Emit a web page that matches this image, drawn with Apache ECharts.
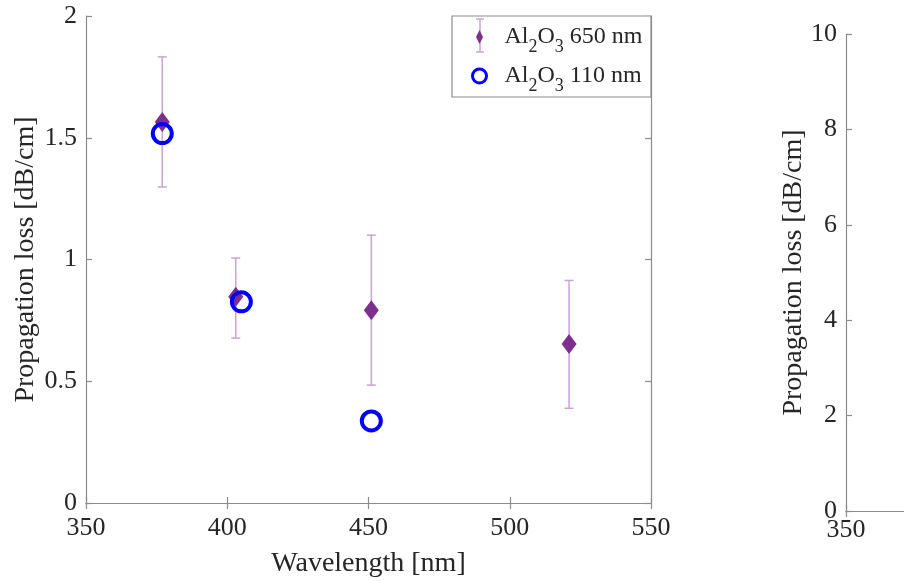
<!DOCTYPE html>
<html>
<head>
<meta charset="utf-8">
<script src="https://cdn.jsdelivr.net/npm/echarts@6/dist/echarts.min.js"></script>
<style>
  html, body { margin: 0; padding: 0; background: #fff; }
  #chart { width: 904px; height: 581px; }
</style>
</head>
<body>
<div id="chart"></div>
<script>
// Axis ticks
const xTicks = [350, 400, 450, 500, 550];
const yTicksLeft = [0, 0.5, 1, 1.5, 2];
const yTicksRight = [0, 2, 4, 6, 8, 10];

// Al2O3 650 nm film: measured loss with error range
const wavelength650 = [377, 403, 451, 521];
const loss650 = [1.565, 0.847, 0.792, 0.653];
const errLow650 = [1.298, 0.677, 0.484, 0.389];
const errHigh650 = [1.832, 1.006, 1.100, 0.914];

// Al2O3 110 nm film
const wavelength110 = [377, 405, 451];
const loss110 = [1.517, 0.826, 0.337];

const seriesNames = ['Al2O3 650 nm', 'Al2O3 110 nm'];

const FONT = 'Liberation Serif';
const AXIS_GRAY = '#8c8c8c';
const TEXT = '#262626';
const PURPLE = '#7e2f8e';
const BAR_PURPLE = '#c9a3d6';
const BLUE = '#0000ff';

const chart = echarts.init(document.getElementById('chart'));

function boxAxis(gridIndex, position, extra) {
  return Object.assign({
    gridIndex: gridIndex,
    position: position,
    type: 'value',
    nameMoveOverlap: false,
    axisLine: { show: true, lineStyle: { color: AXIS_GRAY, width: 1.2 } },
    axisTick: { show: true, inside: true, length: 6, lineStyle: { color: AXIS_GRAY, width: 1.2 } },
    axisLabel: { show: false },
    splitLine: { show: false }
  }, extra);
}

const labelStyle = { show: true, color: TEXT, fontFamily: FONT, fontSize: 26 };
const nameStyle = { color: TEXT, fontFamily: FONT, fontSize: 28 };

const errData = wavelength650.map((w, i) => [w, errLow650[i], errHigh650[i]]);

// small error-bar glyph drawn behind the legend diamond
const barStyle = { stroke: BAR_PURPLE, lineWidth: 1.5 };
const legendBar = [
  { x1: 480, y1: 19, x2: 480, y2: 52 },
  { x1: 476, y1: 19, x2: 484, y2: 19 },
  { x1: 476, y1: 52, x2: 484, y2: 52 }
].map(s => ({ type: 'line', z: 3, shape: s, style: barStyle }));

const option = {
  animation: false,
  backgroundColor: '#fff',
  grid: [
    { left: 86, top: 16, width: 565, height: 487, outerBoundsMode: 'none' },
    { left: 846, top: 34, width: 565, height: 477, outerBoundsMode: 'none' }
  ],
  xAxis: [
    boxAxis(0, 'bottom', {
      min: xTicks[0], max: xTicks[xTicks.length - 1], interval: xTicks[1] - xTicks[0],
      axisLabel: Object.assign({ margin: 12 }, labelStyle),
      name: 'Wavelength [nm]', nameLocation: 'middle', nameGap: 47, nameTextStyle: nameStyle
    }),
    boxAxis(0, 'top', { min: xTicks[0], max: xTicks[xTicks.length - 1], interval: xTicks[1] - xTicks[0] }),
    boxAxis(1, 'bottom', {
      min: xTicks[0], max: xTicks[xTicks.length - 1], interval: xTicks[1] - xTicks[0],
      axisLabel: Object.assign({ margin: 6 }, labelStyle)
    }),
    boxAxis(1, 'top', { min: xTicks[0], max: xTicks[xTicks.length - 1], interval: xTicks[1] - xTicks[0] })
  ],
  yAxis: [
    boxAxis(0, 'left', {
      min: yTicksLeft[0], max: yTicksLeft[yTicksLeft.length - 1], interval: yTicksLeft[1] - yTicksLeft[0],
      axisLabel: Object.assign({ margin: 9 }, labelStyle),
      name: 'Propagation loss [dB/cm]', nameLocation: 'middle', nameGap: 46, nameTextStyle: nameStyle
    }),
    boxAxis(0, 'right', { min: yTicksLeft[0], max: yTicksLeft[yTicksLeft.length - 1], interval: yTicksLeft[1] - yTicksLeft[0] }),
    boxAxis(1, 'left', {
      min: yTicksRight[0], max: yTicksRight[yTicksRight.length - 1], interval: yTicksRight[1] - yTicksRight[0],
      axisLabel: Object.assign({ margin: 9 }, labelStyle),
      name: 'Propagation loss [dB/cm]', nameLocation: 'middle', nameGap: 38, nameTextStyle: nameStyle
    }),
    boxAxis(1, 'right', { min: yTicksRight[0], max: yTicksRight[yTicksRight.length - 1], interval: yTicksRight[1] - yTicksRight[0] })
  ],
  legend: {
    orient: 'vertical',
    left: 466,
    top: 20,
    z: 20,
    itemWidth: 40,
    itemHeight: 14,
    itemGap: 8,
    symbolKeepAspect: true,
    selectedMode: false,
    data: [
      { name: seriesNames[0], icon: 'path://M0,-7L3.5,0L0,7L-3.5,0Z', itemStyle: { color: PURPLE, opacity: 1 } },
      { name: seriesNames[1], icon: 'circle', itemStyle: { color: 'rgba(0,0,0,0)', borderColor: BLUE, borderWidth: 3, opacity: 1 } }
    ],
    formatter: function (name) {
      return name.replace(/^Al2O3/, 'Al{s|2}O{s|3}');
    },
    textStyle: {
      color: TEXT, fontFamily: FONT, fontSize: 24,
      rich: {
        s: { fontFamily: FONT, fontSize: 18, color: TEXT, padding: [20, 0, 0, 0] }
      }
    }
  },
  graphic: [
    { type: 'rect', z: 1, shape: { x: 452, y: 16, width: 199, height: 81 },
      style: { fill: '#fff', stroke: AXIS_GRAY, lineWidth: 1.2 } }
  ].concat(legendBar),
  series: [
    {
      type: 'custom',
      name: 'errorbar',
      xAxisIndex: 0, yAxisIndex: 0,
      data: errData,
      encode: { x: 0, y: [1, 2] },
      z: 2,
      renderItem: function (params, api) {
        const x = api.value(0);
        const lo = api.coord([x, api.value(1)]);
        const hi = api.coord([x, api.value(2)]);
        const cap = 4.5;
        return {
          type: 'group',
          children: [
            { type: 'line', shape: { x1: hi[0], y1: hi[1], x2: lo[0], y2: lo[1] }, style: barStyle },
            { type: 'line', shape: { x1: hi[0] - cap, y1: hi[1], x2: hi[0] + cap, y2: hi[1] }, style: barStyle },
            { type: 'line', shape: { x1: lo[0] - cap, y1: lo[1], x2: lo[0] + cap, y2: lo[1] }, style: barStyle }
          ]
        };
      }
    },
    {
      type: 'scatter',
      name: seriesNames[0],
      xAxisIndex: 0, yAxisIndex: 0,
      z: 3,
      symbol: 'diamond',
      symbolSize: [15, 20],
      itemStyle: { color: PURPLE, opacity: 1 },
      data: wavelength650.map((w, i) => [w, loss650[i]])
    },
    {
      type: 'scatter',
      name: seriesNames[1],
      xAxisIndex: 0, yAxisIndex: 0,
      z: 4,
      symbol: 'circle',
      symbolSize: 19,
      itemStyle: { color: 'rgba(0,0,0,0)', borderColor: BLUE, borderWidth: 4, opacity: 1 },
      data: wavelength110.map((w, i) => [w, loss110[i]])
    }
  ]
};

chart.setOption(option);
</script>
</body>
</html>
